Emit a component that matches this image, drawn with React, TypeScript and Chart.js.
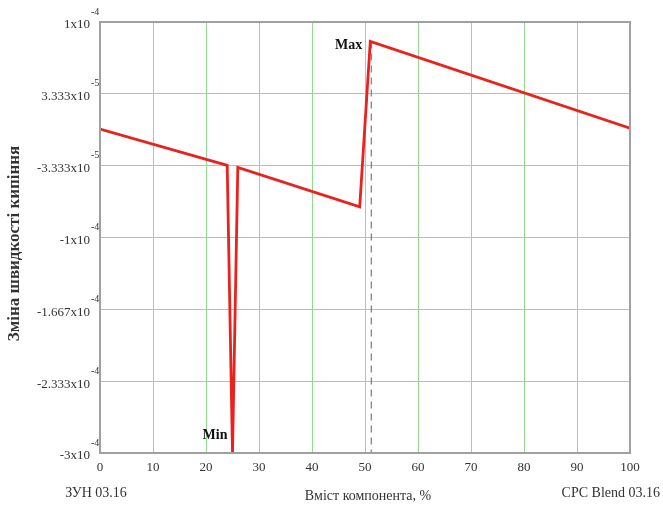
import { useEffect, useRef } from "react";
import { Chart, registerables } from "chart.js";

Chart.register(...registerables);

// ---- data ----
const xValues = [0, 24, 25, 26, 49, 51, 100];
const yValues = [0.7e-6, -3.3e-5, -3.0e-4, -3.5e-5, -7.15e-5, 8.2e-5, 1.5e-6];
const markerX = [51.2, 51.2];
const markerY = [8.2e-5, -3.0e-4];
const yTickValues = [-3e-4, -2.333e-4, -1.667e-4, -1e-4, -3.333e-5, 3.333e-5, 1e-4];
const yTickMantissas = ["-3x10", "-2.333x10", "-1.667x10", "-1x10", "-3.333x10", "3.333x10", "1x10"];
const yTickExponents = ["-4", "-4", "-4", "-4", "-5", "-5", "-4"];
const xTickValues = [0, 10, 20, 30, 40, 50, 60, 70, 80, 90, 100];
const minLabel = "Min";
const maxLabel = "Max";
const xTitle = "Вміст компонента, %";
const yTitle = "Зміна швидкості кипіння";
const leftName = "ЗУН 03.16";
const rightName = "CPC Blend 03.16";

const SERIF = "'Liberation Serif', 'Times New Roman', serif";
const GRID = "#8fdc8f";

const labelIndex = (v: number) => {
  let best = 0;
  let d = Infinity;
  yTickValues.forEach((t, i) => {
    const dd = Math.abs(t - v);
    if (dd < d) {
      d = dd;
      best = i;
    }
  });
  return best;
};

const decorPlugin = {
  id: "decor",
  afterDraw(chart: any) {
    const { ctx, chartArea, scales } = chart;
    const xs = scales.x;
    const ys = scales.y;
    ctx.save();
    // frame
    ctx.strokeStyle = "#a0a0a0";
    ctx.lineWidth = 2;
    ctx.strokeRect(chartArea.left, chartArea.top, chartArea.right - chartArea.left, chartArea.bottom - chartArea.top);

    // exponents
    ctx.fillStyle = "#333";
    ctx.font = `10px ${SERIF}`;
    ctx.textAlign = "left";
    ctx.textBaseline = "middle";
    yTickValues.forEach((v, i) => {
      const py = ys.getPixelForValue(v);
      ctx.fillText(yTickExponents[i], chartArea.left - 9, py - 10);
    });

    // Min / Max labels
    ctx.font = `bold 14px ${SERIF}`;
    ctx.fillStyle = "#111";
    ctx.textAlign = "right";
    const minIdx = yValues.indexOf(Math.min(...yValues));
    const maxIdx = yValues.indexOf(Math.max(...yValues));
    ctx.fillText(minLabel, xs.getPixelForValue(xValues[minIdx]) - 5, ys.getPixelForValue(yValues[minIdx]) - 18);
    ctx.fillText(maxLabel, xs.getPixelForValue(xValues[maxIdx]) - 8, ys.getPixelForValue(yValues[maxIdx]) + 4);

    // bottom texts
    ctx.font = `14px ${SERIF}`;
    ctx.fillStyle = "#333";
    ctx.textAlign = "center";
    ctx.fillText(leftName, xs.getPixelForValue(0) - 4, 493);
    ctx.fillText(xTitle, (chartArea.left + chartArea.right) / 2 + 3, 496);
    ctx.textAlign = "right";
    ctx.fillText(rightName, 660, 493);

    // y title
    ctx.save();
    ctx.translate(15, (chartArea.top + chartArea.bottom) / 2 + 6);
    ctx.rotate(-Math.PI / 2);
    ctx.textAlign = "center";
    ctx.font = `bold 17px ${SERIF}`;
    ctx.fillStyle = "#333";
    ctx.fillText(yTitle, 0, 0);
    ctx.restore();

    ctx.restore();
  },
};

export default function App() {
  const ref = useRef<HTMLCanvasElement | null>(null);
  useEffect(() => {
    if (!ref.current) return;
    const chart = new Chart(ref.current, {
      type: "line",
      data: {
        datasets: [
          {
            data: xValues.map((x, i) => ({ x, y: yValues[i] })),
            borderColor: "#e8231f",
            borderWidth: 2.8,
            pointRadius: 0,
            tension: 0,
          },
          {
            data: markerX.map((x, i) => ({ x, y: markerY[i] })),
            borderColor: "#8a8a8a",
            borderWidth: 1.4,
            borderDash: [7, 5],
            pointRadius: 0,
          },
        ],
      },
      options: {
        animation: false,
        responsive: false,
        events: [],
        layout: { padding: { top: 22, right: 33, left: 0, bottom: 0 } },
        plugins: { legend: { display: false }, tooltip: { enabled: false } },
        scales: {
          x: {
            type: "linear",
            min: 0,
            max: 100,
            afterBuildTicks: (s: any) => {
              s.ticks = xTickValues.map((v) => ({ value: v }));
            },
            afterFit: (s: any) => {
              s.height = 56;
            },
            grid: { color: GRID, lineWidth: 1, drawTicks: false },
            border: { display: false },
            ticks: {
              padding: 7,
              color: "#333",
              font: { family: SERIF, size: 13 },
              maxRotation: 0,
              autoSkip: false,
            },
          },
          y: {
            type: "linear",
            min: -3e-4,
            max: 1e-4,
            afterBuildTicks: (s: any) => {
              s.ticks = yTickValues.map((v) => ({ value: v }));
            },
            afterFit: (s: any) => {
              s.width = 100;
            },
            grid: { color: GRID, lineWidth: 1, drawTicks: false },
            border: { display: false },
            ticks: {
              padding: 10,
              labelOffset: 3,
              color: "#333",
              font: { family: SERIF, size: 13 },
              autoSkip: false,
              callback: (v: any) => yTickMantissas[labelIndex(Number(v))],
            },
          },
        },
      },
      plugins: [decorPlugin],
    });
    return () => chart.destroy();
  }, []);
  return (
    <div style={{ position: "fixed", left: 0, top: 0, width: 663, height: 509, background: "#fff" }}>
      <canvas ref={ref} width={663} height={509} style={{ display: "block" }} />
    </div>
  );
}
